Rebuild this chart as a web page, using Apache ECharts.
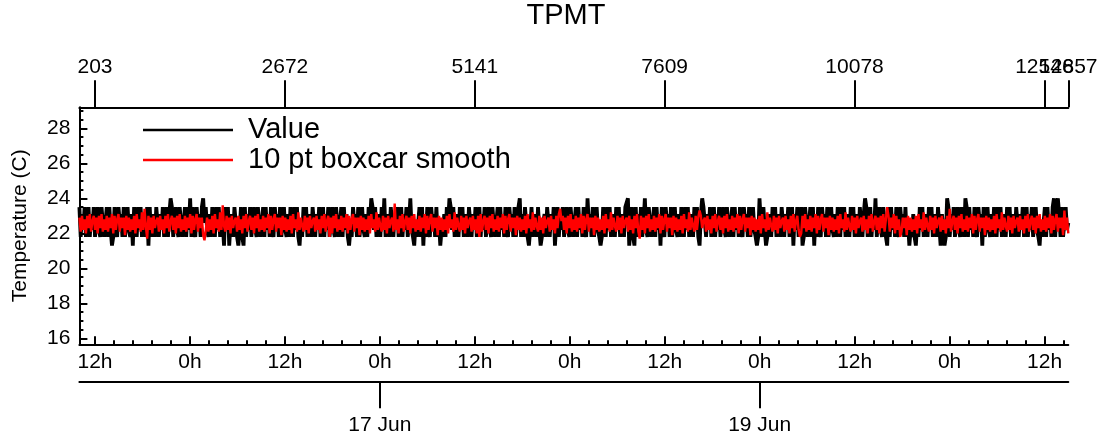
<!DOCTYPE html>
<html>
<head>
<meta charset="utf-8">
<script src="https://cdn.jsdelivr.net/npm/echarts@6/dist/echarts.min.js"></script>
<style>
html,body{margin:0;padding:0;background:#fff;}
#chart{width:1107px;height:443px;}
</style>
</head>
<body>
<div id="chart"></div>
<script>
// ---- data ----
const titleText = 'TPMT';
const seriesNames = ['Value', '10 pt boxcar smooth'];
const sampleCount = 12857;           // index range shown on the top axis
const startHour = 10.027;            // hours after 15 Jun 00:00 of the first sample
const endHour = 135.0;               // hours after 15 Jun 00:00 of the last sample

const topTickValues = [203, 2672, 5141, 7609, 10078, 12546];
const topEndTickValues = [12857];
const hourTickValues = [12, 24, 36, 48, 60, 72, 84, 96, 108, 120, 132];
const hourTickLabels = ['12h', '0h', '12h', '0h', '12h', '0h', '12h', '0h', '12h', '0h', '12h'];
const dateTickValues = [48, 96];
const dateTickLabels = ['17 Jun', '19 Jun'];
const yTickValues = [16, 18, 20, 22, 24, 26, 28];

// raw temperature (C), thinned reading of the black trace
const valueSeries = [
23.5,21.8,23.1,22.2,23.5,21.8,22.6,23.5,21.8,23.1,22.2,23.5,21.8,22.6,23.5,22.2,21.8,23.5,22.6,21.8,
22.6,23.5,21.8,23.5,22.2,21.3,21.8,23.5,22.2,21.8,23.5,22.6,23.1,21.8,23.5,21.8,22.6,23.5,22.2,21.8,
23.1,21.3,23.5,22.6,21.8,23.5,22.2,23.5,21.8,23.1,22.6,21.8,23.5,21.3,23.5,21.8,22.6,23.1,21.8,23.5,
23.5,21.8,23.1,22.2,23.5,21.8,22.6,23.5,21.8,23.1,24.0,23.5,21.8,22.6,23.5,22.2,21.8,23.5,22.6,21.8,
22.6,23.5,21.8,23.5,22.2,24.0,21.8,23.5,22.2,21.8,23.5,22.6,23.1,21.8,23.5,24.0,22.6,23.5,22.2,21.8,
23.1,21.8,23.5,22.6,21.8,23.5,22.2,23.5,21.8,23.1,22.6,21.3,23.5,22.2,23.5,21.3,22.6,23.1,21.8,23.5,
23.5,21.8,21.3,22.2,23.5,21.8,21.3,23.5,21.8,23.1,22.2,23.5,21.8,22.6,23.5,22.2,21.8,23.5,22.6,21.8,
22.6,23.5,21.8,23.5,22.2,23.1,21.8,23.5,22.2,21.8,23.5,22.6,23.1,21.8,23.5,21.8,22.6,23.5,22.2,21.8,
23.1,21.8,23.5,22.6,21.8,23.5,22.2,23.5,21.8,21.3,22.6,21.8,23.5,22.2,23.5,21.8,22.6,23.1,21.8,23.5,
23.5,21.8,23.1,22.2,23.5,21.8,22.6,23.5,21.8,23.1,22.2,23.5,21.8,22.6,23.5,22.2,21.8,23.5,22.6,21.8,
22.6,23.5,21.8,23.5,22.2,23.1,21.8,21.3,22.2,21.8,23.5,22.6,23.1,21.8,23.5,21.8,22.6,23.5,22.2,21.8,
23.1,21.8,23.5,22.6,24.0,23.5,22.2,23.5,21.8,23.1,22.6,21.8,23.5,22.2,24.0,21.8,22.6,23.1,21.8,23.5,
23.5,21.8,23.1,22.2,23.5,21.8,22.6,23.5,21.8,23.1,22.2,23.5,21.8,22.6,24.0,22.2,21.8,21.3,22.6,21.8,
22.6,23.5,21.8,23.5,21.3,23.1,21.8,23.5,22.2,21.8,23.5,22.6,23.1,21.8,23.5,21.8,22.6,21.3,22.2,21.8,
23.1,21.8,23.5,22.6,24.0,23.5,22.2,23.5,21.8,23.1,22.6,21.8,23.5,22.2,23.5,21.8,22.6,23.1,21.8,23.5,
23.5,21.8,23.1,22.2,23.5,21.8,22.6,23.5,21.8,23.1,22.2,23.5,21.8,22.6,23.5,22.2,21.8,23.5,22.6,21.8,
22.6,23.5,21.8,23.5,22.2,23.1,21.8,23.5,22.2,21.8,23.5,22.6,23.1,21.8,23.5,21.8,22.6,23.5,24.0,21.8,
23.1,21.8,23.5,22.6,21.8,21.3,22.2,23.5,21.8,23.1,22.6,21.8,23.5,22.2,21.3,21.8,22.6,23.1,21.8,23.5,
23.5,21.8,23.1,22.2,23.5,21.3,22.6,23.5,21.8,23.1,22.2,23.5,21.8,22.6,23.5,22.2,21.8,23.5,22.6,21.8,
22.6,23.5,21.8,23.5,22.2,23.1,21.8,23.5,22.2,21.8,24.0,22.6,23.1,21.8,23.5,21.8,22.6,23.5,22.2,21.8,
21.3,21.8,23.5,22.6,21.8,23.5,22.2,23.5,21.8,23.1,22.6,21.8,23.5,22.2,23.5,21.8,22.6,23.1,21.8,23.5,
23.5,24.0,21.3,22.2,23.5,21.8,21.3,23.5,21.8,23.1,22.2,23.5,21.8,22.6,24.0,22.2,21.8,23.5,22.6,21.8,
22.6,23.5,21.8,23.5,22.2,23.1,21.3,23.5,22.2,21.8,23.5,22.6,23.1,21.8,23.5,21.8,22.6,23.5,22.2,21.8,
23.1,21.8,23.5,22.6,21.8,23.5,22.2,23.5,21.8,23.1,22.6,21.8,23.5,22.2,23.5,21.8,21.3,23.1,24.0,23.5,
23.5,21.8,23.1,22.2,23.5,21.8,22.6,23.5,21.8,23.1,22.2,23.5,21.8,22.6,23.5,22.2,21.8,23.5,22.6,21.8,
22.6,23.5,21.8,23.5,22.2,23.1,21.8,23.5,22.2,21.8,23.5,22.6,23.1,21.8,23.5,21.8,22.6,23.5,22.2,21.8,
21.3,21.8,24.0,22.6,21.8,23.5,22.2,21.3,21.8,23.1,22.6,21.8,23.5,22.2,23.5,21.8,22.6,23.1,21.8,23.5,
23.5,21.8,23.1,22.2,23.5,21.8,22.6,23.5,21.3,23.1,22.2,23.5,21.8,22.6,23.5,21.3,21.8,23.5,22.6,21.8,
22.6,23.5,21.8,23.5,21.3,23.1,21.8,23.5,22.2,21.8,23.5,22.6,23.1,21.8,23.5,21.8,22.6,23.5,22.2,21.8,
23.1,21.8,23.5,22.6,21.8,23.5,22.2,23.5,21.8,23.1,22.6,21.8,23.5,22.2,23.5,21.8,22.6,23.1,21.8,23.5,
23.5,21.8,23.1,24.0,23.5,21.8,22.6,23.5,21.8,23.1,22.2,24.0,21.8,22.6,23.5,22.2,21.8,23.5,22.6,21.8,
21.3,23.5,21.8,23.5,22.2,23.1,21.8,23.5,22.2,21.8,23.5,22.6,23.1,21.8,23.5,21.8,22.6,21.3,22.2,21.8,
23.1,21.8,21.3,22.6,21.8,23.5,22.2,23.5,21.8,23.1,22.6,21.8,23.5,22.2,23.5,21.8,22.6,23.1,21.8,23.5,
23.5,21.3,23.1,22.2,21.3,21.8,24.0,23.5,21.8,23.1,22.2,23.5,21.8,22.6,23.5,22.2,21.8,23.5,22.6,21.8,
24.0,23.5,21.8,23.5,22.2,23.1,21.8,23.5,22.2,21.8,23.5,22.6,23.1,21.3,23.5,21.8,22.6,23.5,22.2,21.8,
23.1,21.8,23.5,22.6,21.8,23.5,22.2,23.5,21.8,23.1,22.6,21.8,23.5,22.2,23.5,21.8,22.6,23.1,21.8,23.5,
23.5,21.8,23.1,22.2,23.5,21.8,22.6,23.5,21.8,23.1,22.2,23.5,21.8,22.6,23.5,22.2,21.8,21.3,22.6,21.8,
22.6,23.5,21.8,23.5,22.2,23.1,21.8,23.5,24.0,21.8,23.5,24.0,23.1,21.8,23.5,21.8,22.6,23.5,22.2,22.6
];

// 10 pt boxcar smooth, thinned reading of the red trace
const smoothSeries = [
22.9,22.1,23.0,22.2,22.8,22.0,23.0,22.3,23.1,22.1,22.7,23.0,22.2,22.9,22.0,23.0,22.3,23.1,22.1,22.8,
22.2,23.0,22.1,22.9,22.3,23.1,22.0,23.0,22.2,22.8,23.1,22.1,22.9,22.3,22.9,21.9,23.0,22.2,22.9,22.1,
22.8,22.2,23.0,22.0,23.1,22.3,22.8,22.1,23.2,22.2,23.4,22.4,21.7,23.0,22.2,22.9,22.0,23.0,22.3,22.7,
22.9,22.1,23.0,22.2,22.8,22.0,23.0,22.3,23.1,22.1,22.7,23.0,22.2,22.9,22.0,23.0,22.3,23.1,22.1,22.8,
22.2,23.0,22.1,22.9,22.3,23.1,22.0,23.0,22.2,22.8,23.1,22.1,22.9,22.3,22.9,21.9,21.6,22.2,22.9,22.1,
22.8,22.2,23.0,22.0,23.1,22.3,22.8,22.1,23.2,22.2,23.6,22.4,22.1,23.0,22.2,22.9,22.0,23.0,22.3,22.7,
22.9,22.1,23.0,22.2,22.8,22.0,23.0,22.3,23.1,22.1,22.7,23.0,22.2,22.9,22.0,23.0,22.3,23.1,22.1,22.8,
22.2,23.0,22.1,22.9,22.3,23.1,22.0,23.0,22.2,22.8,23.1,22.1,22.9,22.3,22.9,21.9,23.0,22.2,22.9,22.1,
22.8,22.2,23.0,22.0,23.1,22.3,22.8,22.1,23.2,22.2,22.9,22.4,22.1,23.0,22.2,22.9,22.0,23.0,22.3,22.7,
22.9,22.1,23.0,22.2,22.8,22.0,23.0,22.3,23.1,22.1,22.7,23.0,21.8,22.9,22.0,23.0,22.3,23.1,22.1,22.8,
22.2,23.0,22.1,22.9,22.3,23.1,22.0,23.0,22.2,22.8,23.1,22.1,22.9,22.3,22.9,21.9,23.0,22.2,22.9,22.1,
22.8,22.2,23.0,22.0,23.1,22.3,22.8,22.1,23.2,22.2,22.9,22.4,22.1,23.0,22.2,22.9,22.0,23.0,22.3,22.7,
22.9,22.1,23.7,22.2,22.8,22.0,23.0,22.3,23.1,22.1,22.7,23.0,22.2,22.9,22.0,23.0,22.3,23.1,22.1,22.8,
22.2,23.0,22.1,22.9,22.3,23.1,22.0,23.0,22.2,22.8,23.1,22.1,22.9,22.3,22.9,21.9,23.0,22.2,22.9,22.1,
22.8,22.2,23.0,22.0,23.1,22.3,22.8,22.1,23.2,22.2,22.9,22.4,22.1,23.0,22.2,22.9,22.0,23.0,22.3,22.7,
22.9,22.1,23.0,22.2,22.8,22.0,23.0,21.8,23.1,22.1,22.7,23.0,22.2,22.9,22.0,23.0,22.3,23.1,22.1,22.8,
22.2,23.0,22.1,22.9,22.3,23.1,22.0,23.0,22.2,22.8,23.1,22.1,22.9,22.3,22.9,21.9,23.0,22.2,22.9,22.1,
22.8,22.2,23.0,22.0,23.1,22.3,22.8,22.1,23.2,22.2,22.9,22.4,22.1,23.0,22.2,22.9,22.0,23.0,22.3,22.7,
22.9,22.1,23.0,22.2,22.8,22.0,23.0,22.3,23.1,23.4,22.7,23.0,22.2,22.9,22.0,23.0,22.3,23.1,22.1,22.8,
22.2,23.0,22.1,22.9,22.3,23.1,22.0,23.0,22.2,22.8,23.1,22.1,22.9,22.3,22.9,21.9,23.0,22.2,22.9,22.1,
22.8,22.2,23.0,22.0,23.1,22.3,22.8,22.1,23.2,22.2,22.9,22.4,22.1,23.0,22.2,22.9,22.0,23.0,22.3,22.7,
22.9,22.1,23.0,22.2,22.8,22.0,23.0,22.3,23.1,22.1,21.7,23.0,22.2,22.9,22.0,23.0,22.3,23.1,22.1,22.8,
22.2,23.0,22.1,22.9,22.3,23.1,22.0,23.0,22.2,22.8,23.1,22.1,22.9,22.3,22.9,21.9,23.0,22.2,22.9,22.1,
22.8,22.2,23.0,22.0,23.1,22.3,22.8,22.1,23.2,22.2,22.9,22.4,22.1,23.0,22.2,22.9,23.3,23.0,22.3,22.7,
22.9,22.1,23.0,22.2,22.8,22.0,23.0,22.3,23.1,22.1,22.7,23.0,22.2,22.9,22.0,23.0,22.3,23.1,22.1,22.8,
22.2,23.0,22.1,22.9,22.3,23.1,22.0,23.0,22.2,22.8,23.1,22.1,22.9,22.3,22.9,21.9,23.0,22.2,22.9,22.1,
22.8,22.2,23.0,22.0,23.1,22.3,22.8,22.1,23.2,22.2,22.9,22.4,22.1,23.0,22.2,22.9,22.0,23.0,22.3,22.7,
22.9,22.1,23.0,22.2,22.8,22.0,23.0,22.3,23.1,22.1,22.7,23.0,22.2,21.8,22.0,23.0,22.3,23.1,22.1,22.8,
22.2,23.0,22.1,22.9,22.3,23.1,22.0,23.0,22.2,22.8,23.1,22.1,22.9,22.3,22.9,21.9,23.0,22.2,22.9,22.1,
22.8,22.2,23.0,22.0,23.1,22.3,22.8,22.1,23.2,22.2,22.9,22.4,22.1,23.0,22.2,22.9,22.0,23.0,22.3,22.7,
22.9,22.1,23.0,22.2,22.8,22.0,23.0,22.3,23.1,22.1,22.7,23.0,22.2,22.9,22.0,23.0,22.3,23.1,22.1,22.8,
23.5,23.0,22.1,22.9,22.3,23.1,22.0,23.0,22.2,22.8,21.8,22.1,22.9,22.3,22.9,21.9,23.0,22.2,22.9,22.1,
22.8,22.2,23.0,22.0,23.1,22.3,22.8,22.1,23.2,22.2,22.9,22.4,22.1,23.0,22.2,22.9,22.0,23.0,22.3,22.7,
22.9,22.1,23.0,22.2,22.8,22.0,23.0,22.3,23.4,22.1,22.7,23.0,22.2,22.9,22.0,23.0,22.3,23.1,22.1,22.8,
22.2,23.0,22.1,22.9,22.3,23.1,22.0,23.0,22.2,22.8,23.1,22.1,22.9,22.3,22.9,21.9,23.0,22.2,22.9,22.1,
22.8,22.2,23.0,22.0,23.1,22.3,22.8,22.1,23.2,22.2,22.9,22.4,22.1,23.0,22.2,22.9,22.0,23.0,22.3,22.7,
22.9,22.1,23.0,22.2,22.8,22.0,23.0,22.3,23.1,22.1,22.7,23.0,22.2,22.9,22.0,23.0,22.3,23.1,22.1,22.8,
22.2,23.0,22.1,22.9,22.3,23.1,22.0,23.0,22.2,22.8,23.1,22.1,22.9,22.3,22.9,21.9,23.3,22.2,22.9,22.0
];

// ---- build chart ----
const FONT = 'Liberation Sans, Arial, Helvetica, sans-serif';
function toPairs(arr) {
  const n = arr.length;
  return arr.map((v, i) => [startHour + i * (endHour - startHour) / (n - 1), v]);
}
const minorHourTicks = [];
for (let h = 12; h <= endHour; h += 2.4) {
  const r = Math.round(h * 10) / 10;
  if (Math.abs(r / 12 - Math.round(r / 12)) > 1e-6) minorHourTicks.push(r);
}
const minorYTicks = [];
for (let y = 16; y <= 29.2; y += 0.5) {
  if (y % 2 !== 0) minorYTicks.push(y);
}
const yMin = 15.66, yMax = 29.2;
const axisLineStyle = { color: '#000', width: 2 };
const black = '#000';
const TICK_FS = 21;

function topAxis(values, showLine) {
  return {
    type: 'value', position: 'top', min: 0, max: sampleCount, gridIndex: 0,
    axisLine: { show: showLine, onZero: false, lineStyle: axisLineStyle },
    axisTick: { show: true, inside: false, length: 27, lineStyle: { color: black, width: 2 }, customValues: values },
    axisLabel: {
      show: true, customValues: values, fontSize: TICK_FS, color: black, fontFamily: FONT, margin: 30,
      showMaxLabel: true, showMinLabel: true, hideOverlap: false,
      formatter: v => String(Math.round(v))
    },
    splitLine: { show: false }
  };
}

const chart = echarts.init(document.getElementById('chart'), null, { renderer: 'canvas' });
chart.setOption({
  animation: false,
  backgroundColor: '#fff',
  textStyle: { fontFamily: FONT, color: black },
  title: {
    text: titleText, left: 566, top: 1, textAlign: 'center', padding: 0,
    textStyle: { fontFamily: FONT, fontSize: 29, fontWeight: 'normal', color: black }
  },
  legend: {
    orient: 'vertical', left: 143, top: 115, itemWidth: 90, itemHeight: 2.5, itemGap: 0, padding: 0,
    icon: 'rect',
    textStyle: { fontFamily: FONT, fontSize: 29, color: black, lineHeight: 30, padding: [0, 0, 0, 10] },
    data: [
      { name: seriesNames[0], itemStyle: { color: '#000' } },
      { name: seriesNames[1], itemStyle: { color: '#ff0000' } }
    ]
  },
  grid: { left: 79.4, right: 38.7, top: 107.3, bottom: 98.7, containLabel: false },
  xAxis: [
    { // main time axis (hours after 15 Jun 00:00)
      type: 'value', position: 'bottom', min: startHour, max: endHour, gridIndex: 0,
      axisLine: { show: true, onZero: false, lineStyle: axisLineStyle },
      axisTick: { show: true, inside: true, length: 8, lineStyle: { color: black, width: 2 }, customValues: hourTickValues },
      axisLabel: {
        show: true, customValues: hourTickValues, fontSize: TICK_FS, color: black, fontFamily: FONT, margin: 7,
        formatter: v => hourTickLabels[hourTickValues.indexOf(Math.round(v))]
      },
      splitLine: { show: false }
    },
    { // minor ticks of time axis
      type: 'value', position: 'bottom', min: startHour, max: endHour, gridIndex: 0,
      axisLine: { show: false, onZero: false },
      axisTick: { show: true, inside: true, length: 4, lineStyle: { color: black, width: 2 }, customValues: minorHourTicks },
      axisLabel: { show: false }, splitLine: { show: false }
    },
    { // date axis
      type: 'value', position: 'bottom', offset: 37, min: startHour, max: endHour, gridIndex: 0,
      axisLine: { show: true, onZero: false, lineStyle: axisLineStyle },
      axisTick: { show: true, inside: false, length: 27, lineStyle: { color: black, width: 2 }, customValues: dateTickValues },
      axisLabel: {
        show: true, customValues: dateTickValues, fontSize: TICK_FS, color: black, fontFamily: FONT, margin: 33,
        formatter: v => dateTickLabels[dateTickValues.indexOf(Math.round(v))]
      },
      splitLine: { show: false }
    },
    topAxis(topTickValues, true),     // sample index axis on top
    topAxis(topEndTickValues, false)  // last sample index
  ],
  yAxis: [
    {
      type: 'value', position: 'left', min: yMin, max: yMax, gridIndex: 0,
      name: 'Temperature (C)', nameLocation: 'middle', nameGap: 49,
      nameTextStyle: { fontFamily: FONT, fontSize: 21, color: black },
      axisLine: { show: true, onZero: false, lineStyle: axisLineStyle },
      axisTick: { show: true, inside: true, length: 8, lineStyle: { color: black, width: 2 }, customValues: yTickValues },
      axisLabel: { show: true, customValues: yTickValues, fontSize: TICK_FS, color: black, fontFamily: FONT, margin: 9 },
      splitLine: { show: false }
    },
    {
      type: 'value', position: 'left', min: yMin, max: yMax, gridIndex: 0,
      axisLine: { show: false, onZero: false },
      axisTick: { show: true, inside: true, length: 4, lineStyle: { color: black, width: 2 }, customValues: minorYTicks },
      axisLabel: { show: false }, splitLine: { show: false }
    }
  ],
  series: [
    {
      name: seriesNames[0], type: 'line', xAxisIndex: 0, yAxisIndex: 0,
      data: toPairs(valueSeries), showSymbol: false, symbol: 'none', sampling: null,
      lineStyle: { color: '#000', width: 3.8 }, itemStyle: { color: '#000' }, z: 2
    },
    {
      name: seriesNames[1], type: 'line', xAxisIndex: 0, yAxisIndex: 0,
      data: toPairs(smoothSeries), showSymbol: false, symbol: 'none', sampling: null,
      lineStyle: { color: '#ff0000', width: 2.4 }, itemStyle: { color: '#ff0000' }, z: 3
    }
  ]
});
</script>
</body>
</html>
